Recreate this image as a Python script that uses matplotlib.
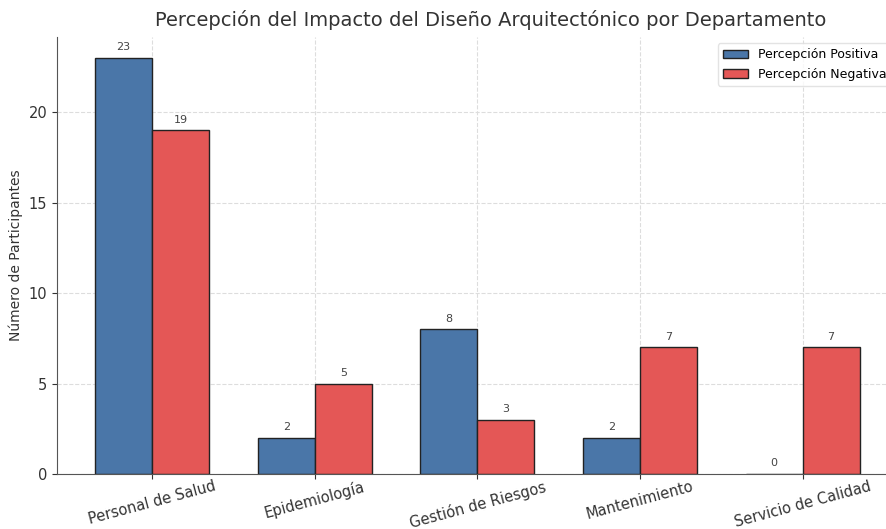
import numpy as np
from matplotlib import pyplot as plt

departamentos = ['Personal de Salud', 'Epidemiología', 'Gestión de Riesgos',
                 'Mantenimiento', 'Servicio de Calidad']
positiva = [23, 2, 8, 2, 0]
negativa = [19, 5, 3, 7, 7]

x = np.arange(len(departamentos))
ancho = 0.35

fig = plt.figure(figsize=(8.86, 5.29), dpi=100)
ax = fig.add_axes([0.0643, 0.104, 0.949, 0.826])

b1 = ax.bar(x - ancho/2, positiva, ancho, label='Percepción Positiva',
            color='#4a76a8', edgecolor='#222222', linewidth=1)
b2 = ax.bar(x + ancho/2, negativa, ancho, label='Percepción Negativa',
            color='#e45756', edgecolor='#222222', linewidth=1)

for barras in (b1, b2):
    for b in barras:
        h = b.get_height()
        ax.annotate(str(int(h)), (b.get_x() + b.get_width()/2, h),
                    xytext=(0, 4), textcoords='offset points',
                    ha='center', va='bottom', fontsize=8, color='#444444')

ax.set_xticks(x)
ax.set_xticklabels(departamentos, rotation=15, fontsize=10.5, color='#333333')
ax.set_ylim(0, 24.15)
ax.set_ylabel('Número de Participantes', fontsize=10, color='#333333')
ax.set_title('Percepción del Impacto del Diseño Arquitectónico por Departamento',
             fontsize=14, color='#333333', pad=8, x=0.516)
ax.tick_params(axis='y', colors='#333333', labelsize=10.5)
ax.tick_params(axis='x', colors='#333333', pad=0)
ax.grid(True, linestyle='--', color='#dddddd', linewidth=0.8)
ax.set_axisbelow(True)
for s in ('top', 'right'):
    ax.spines[s].set_visible(False)
for s in ('left', 'bottom'):
    ax.spines[s].set_color('#555555')
ax.legend(loc='upper right', fontsize=9, edgecolor='#dddddd')

fig.savefig('out.png', dpi=100)
